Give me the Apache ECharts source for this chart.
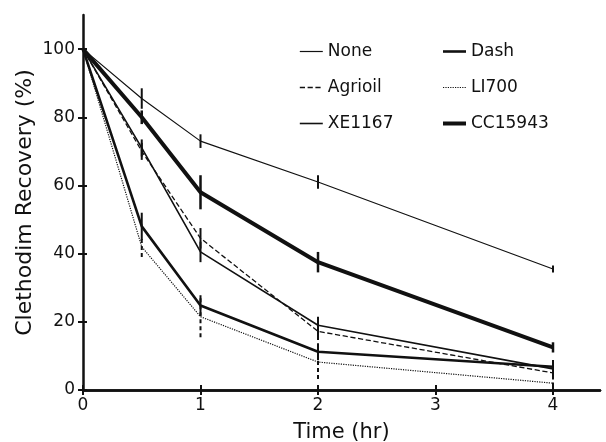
<!DOCTYPE html>
<html>
<head>
<meta charset="utf-8">
<script src="https://cdn.jsdelivr.net/npm/echarts@6/dist/echarts.min.js"></script>
<style>
  html, body { margin: 0; padding: 0; background: #fff; }
  #chart { width: 606px; height: 442px; }
</style>
</head>
<body>
<div id="chart"></div>
<script>
// sampling times (hr)
const times = [0, 0.5, 1, 2, 4];

// clethodim recovery (%) per adjuvant
const none = [100, 85.5, 73, 61, 35.5];
const dash = [100, 48, 24.8, 11.2, 6.8];
const agrioil = [100, 70, 44.5, 17.2, 5.0];
const li700 = [100, 42, 21.5, 8.2, 2.0];
const xe1167 = [100, 71, 40.5, 19, 6.2];
const cc15943 = [100, 80, 58, 37.5, 12.5];

// error bar half-lengths (%)
const noneErr = [0, 3, 2, 2, 1];
const dashErr = [0, 4, 3, 2.5, 2];
const agrioilErr = [0, 2.5, 3, 2.5, 1.5];
const li700Err = [0, 3, 6, 5, 3];
const xe1167Err = [0, 2.5, 3, 2.5, 1.5];
const cc15943Err = [0, 2, 5, 3, 1.5];

const xTicks = [0, 1, 2, 3, 4];
const yTicks = [0, 20, 40, 60, 80, 100];

const FONT = 'DejaVu Sans';
const INK = '#111';

const pairs = (ys) => times.map((t, i) => [t, ys[i]]);
const triples = (ys, es) => times.map((t, i) => [t, ys[i], es[i]]);

const lineSeries = (name, ys, width, type) => ({
  name: name,
  type: 'line',
  data: pairs(ys),
  symbol: 'none',
  lineStyle: {color: INK, width: width, type: type},
  itemStyle: {color: INK},
  z: 3,
});

const errSeries = (ys, es, width, type) => ({
  type: 'custom',
  data: triples(ys, es),
  silent: true,
  z: 4,
  renderItem: function (params, api) {
    const x = api.value(0);
    const y = api.value(1);
    const e = api.value(2);
    if (!e) {
      return;
    }
    const lo = api.coord([x, y - e]);
    const hi = api.coord([x, y + e]);
    return {
      type: 'line',
      shape: {x1: lo[0], y1: lo[1], x2: hi[0], y2: hi[1]},
      style: {stroke: INK, lineWidth: width, lineDash: type === 'dashed' ? [4, 3] : null},
    };
  },
});

const chart = echarts.init(document.getElementById('chart'));

const baseX = {
  type: 'value',
  min: 0,
  max: 4.4,
  interval: 1,
  splitLine: {show: false},
};
const baseY = {
  type: 'value',
  min: 0,
  max: 110,
  interval: 20,
  splitLine: {show: false},
};

const legendBase = {
  orient: 'vertical',
  top: 43,
  padding: 0,
  itemWidth: 23,
  itemHeight: 14,
  itemGap: 19,
  itemStyle: {opacity: 0},
  lineStyle: {width: 'inherit', type: 'inherit'},
  textStyle: {fontFamily: FONT, fontSize: 17, color: INK},
};

const option = {
  animation: false,
  backgroundColor: '#fff',
  grid: {left: 83, right: 6, top: 15, bottom: 52, containLabel: false, outerBoundsMode: 'none'},
  xAxis: [
    Object.assign({}, baseX, {
      position: 'bottom',
      name: 'Time (hr)',
      nameLocation: 'middle',
      nameGap: 32,
      nameMoveOverlap: false,
      nameTextStyle: {fontFamily: FONT, fontSize: 21, color: INK},
      axisLine: {lineStyle: {color: INK, width: 2.5}},
      axisTick: {length: 5, customValues: xTicks, lineStyle: {color: INK, width: 2}},
      axisLabel: {
        margin: 7,
        fontFamily: FONT,
        fontSize: 17,
        color: INK,
        customValues: xTicks,
      },
    }),
    Object.assign({}, baseX, {
      position: 'top',
      axisLine: {lineStyle: {color: INK, width: 2.5}},
      axisTick: {show: false},
      axisLabel: {show: false},
    }),
    Object.assign({}, baseX, {
      position: 'bottom',
      axisLine: {show: false},
      axisTick: {inside: true, length: 5, customValues: xTicks, lineStyle: {color: INK, width: 2}},
      axisLabel: {show: false},
    }),
  ],
  yAxis: [
    Object.assign({}, baseY, {
      position: 'left',
      name: 'Clethodim Recovery (%)',
      nameLocation: 'middle',
      nameGap: 47,
      nameMoveOverlap: false,
      nameTextStyle: {fontFamily: FONT, fontSize: 22, color: INK},
      axisLine: {show: true, lineStyle: {color: INK, width: 2.5}},
      axisTick: {show: true, length: 5, customValues: yTicks, lineStyle: {color: INK, width: 2}},
      axisLabel: {
        margin: 8,
        fontFamily: FONT,
        fontSize: 17,
        color: INK,
        customValues: yTicks,
      },
    }),
    Object.assign({}, baseY, {
      position: 'left',
      axisLine: {show: false},
      axisTick: {show: true, inside: true, length: 4, customValues: yTicks, lineStyle: {color: INK, width: 2}},
      axisLabel: {show: false},
    }),
  ],
  legend: [
    Object.assign({}, legendBase, {left: 299, data: ['None', 'Agrioil', 'XE1167']}),
    Object.assign({}, legendBase, {left: 441, data: ['Dash', 'LI700', 'CC15943']}),
  ],
  series: [
    lineSeries('None', none, 1.2, 'solid'),
    lineSeries('Dash', dash, 2.6, 'solid'),
    lineSeries('Agrioil', agrioil, 1.3, 'dashed'),
    lineSeries('LI700', li700, 1.2, 'dotted'),
    lineSeries('XE1167', xe1167, 1.6, 'solid'),
    lineSeries('CC15943', cc15943, 4, 'solid'),
    errSeries(none, noneErr, 2, 'solid'),
    errSeries(dash, dashErr, 2, 'solid'),
    errSeries(agrioil, agrioilErr, 2, 'solid'),
    errSeries(li700, li700Err, 2, 'dashed'),
    errSeries(xe1167, xe1167Err, 2, 'solid'),
    errSeries(cc15943, cc15943Err, 2.5, 'solid'),
  ],
};

chart.setOption(option);
</script>
</body>
</html>
